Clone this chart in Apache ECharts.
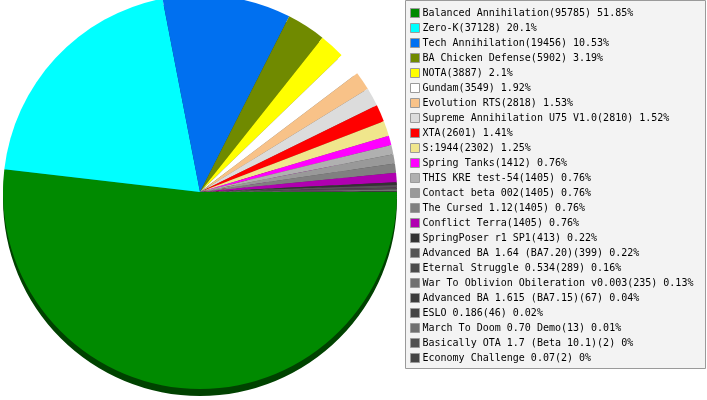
<!DOCTYPE html>
<html>
<head>
<meta charset="utf-8">
<script src="https://cdn.jsdelivr.net/npm/echarts@6/dist/echarts.min.js"></script>
<style>html,body{margin:0;padding:0;background:#fff;}#c{width:707px;height:400px;}</style>
</head>
<body>
<div id="c"></div>
<script>
const names = ["Balanced Annihilation","Zero-K","Tech Annihilation","BA Chicken Defense","NOTA","Gundam","Evolution RTS","Supreme Annihilation U75 V1.0","XTA","S:1944","Spring Tanks","THIS KRE test-54","Contact beta 002","The Cursed 1.12","Conflict Terra","SpringPoser r1 SP1","Advanced BA 1.64 (BA7.20)","Eternal Struggle 0.534","War To Oblivion Obileration v0.003","Advanced BA 1.615 (BA7.15)","ESLO 0.186","March To Doom 0.70 Demo","Basically OTA 1.7 (Beta 10.1)","Economy Challenge 0.07"];
const values = [95785,37128,19456,5902,3887,3549,2818,2810,2601,2302,1412,1405,1405,1405,1405,413,399,289,235,67,46,13,2,2];
const colors = ["#008a00","#00ffff","#0070f0","#708a00","#ffff00","#ffffff","#f8c288","#dcdcdc","#ff0000","#f0e68c","#ff00ff","#b0b0b0","#999999","#808080","#b000b0","#333333","#555555","#4a4a4a","#707070","#3c3c3c","#444444","#707070","#505050","#444444"];

const total = values.reduce((a,b)=>a+b,0);
function shade(hex){
  const n=parseInt(hex.slice(1),16);
  const r=(n>>16)&255,g=(n>>8)&255,b=n&255;
  const f=v=>Math.round(v*0.48).toString(16).padStart(2,'0');
  return '#'+f(r)+f(g)+f(b);
}
const mainData = names.map((n,i)=>({name:n,value:values[i],itemStyle:{color:colors[i]}}));
const shadowData = names.map((n,i)=>({name:'_s'+i,value:values[i],itemStyle:{color:shade(colors[i])}}));

const chart = echarts.init(document.getElementById('c'), null, {renderer:'canvas'});
chart.setOption({
  animation:false,
  backgroundColor:'#ffffff',
  graphic:[{type:'rect',left:405,top:0,z:-10,shape:{width:300,height:368},style:{fill:'#f3f3f3',stroke:'#9a9a9a',lineWidth:1}}],
  legend:{
    orient:'vertical',
    left:410,top:8,padding:0,
    itemWidth:9,itemHeight:9,itemGap:5,
    icon:'rect',
    selectedMode:false,
    itemStyle:{borderColor:'#9a9a9a',borderWidth:1},
    textStyle:{fontFamily:'DejaVu Sans Mono',fontSize:10,color:'#000',padding:[0,0,0,-2]},
    data:names,
    formatter:function(name){
      const i=names.indexOf(name);
      const p=parseFloat((values[i]/total*100).toFixed(2));
      return name+'('+values[i]+') '+p+'%';
    }
  },
  series:[
    {type:'pie',name:'main',center:[200,192],radius:197,startAngle:0,clockwise:true,z:2,
     label:{show:false},labelLine:{show:false},
     emphasis:{disabled:true},data:mainData,itemStyle:{borderWidth:0}},
    {type:'pie',name:'shadow',center:[200,199],radius:197,startAngle:0,clockwise:true,z:1,
     label:{show:false},labelLine:{show:false},silent:true,legendHoverLink:false,
     emphasis:{disabled:true},data:shadowData,itemStyle:{borderWidth:0}}
  ]
});
</script>
</body>
</html>
